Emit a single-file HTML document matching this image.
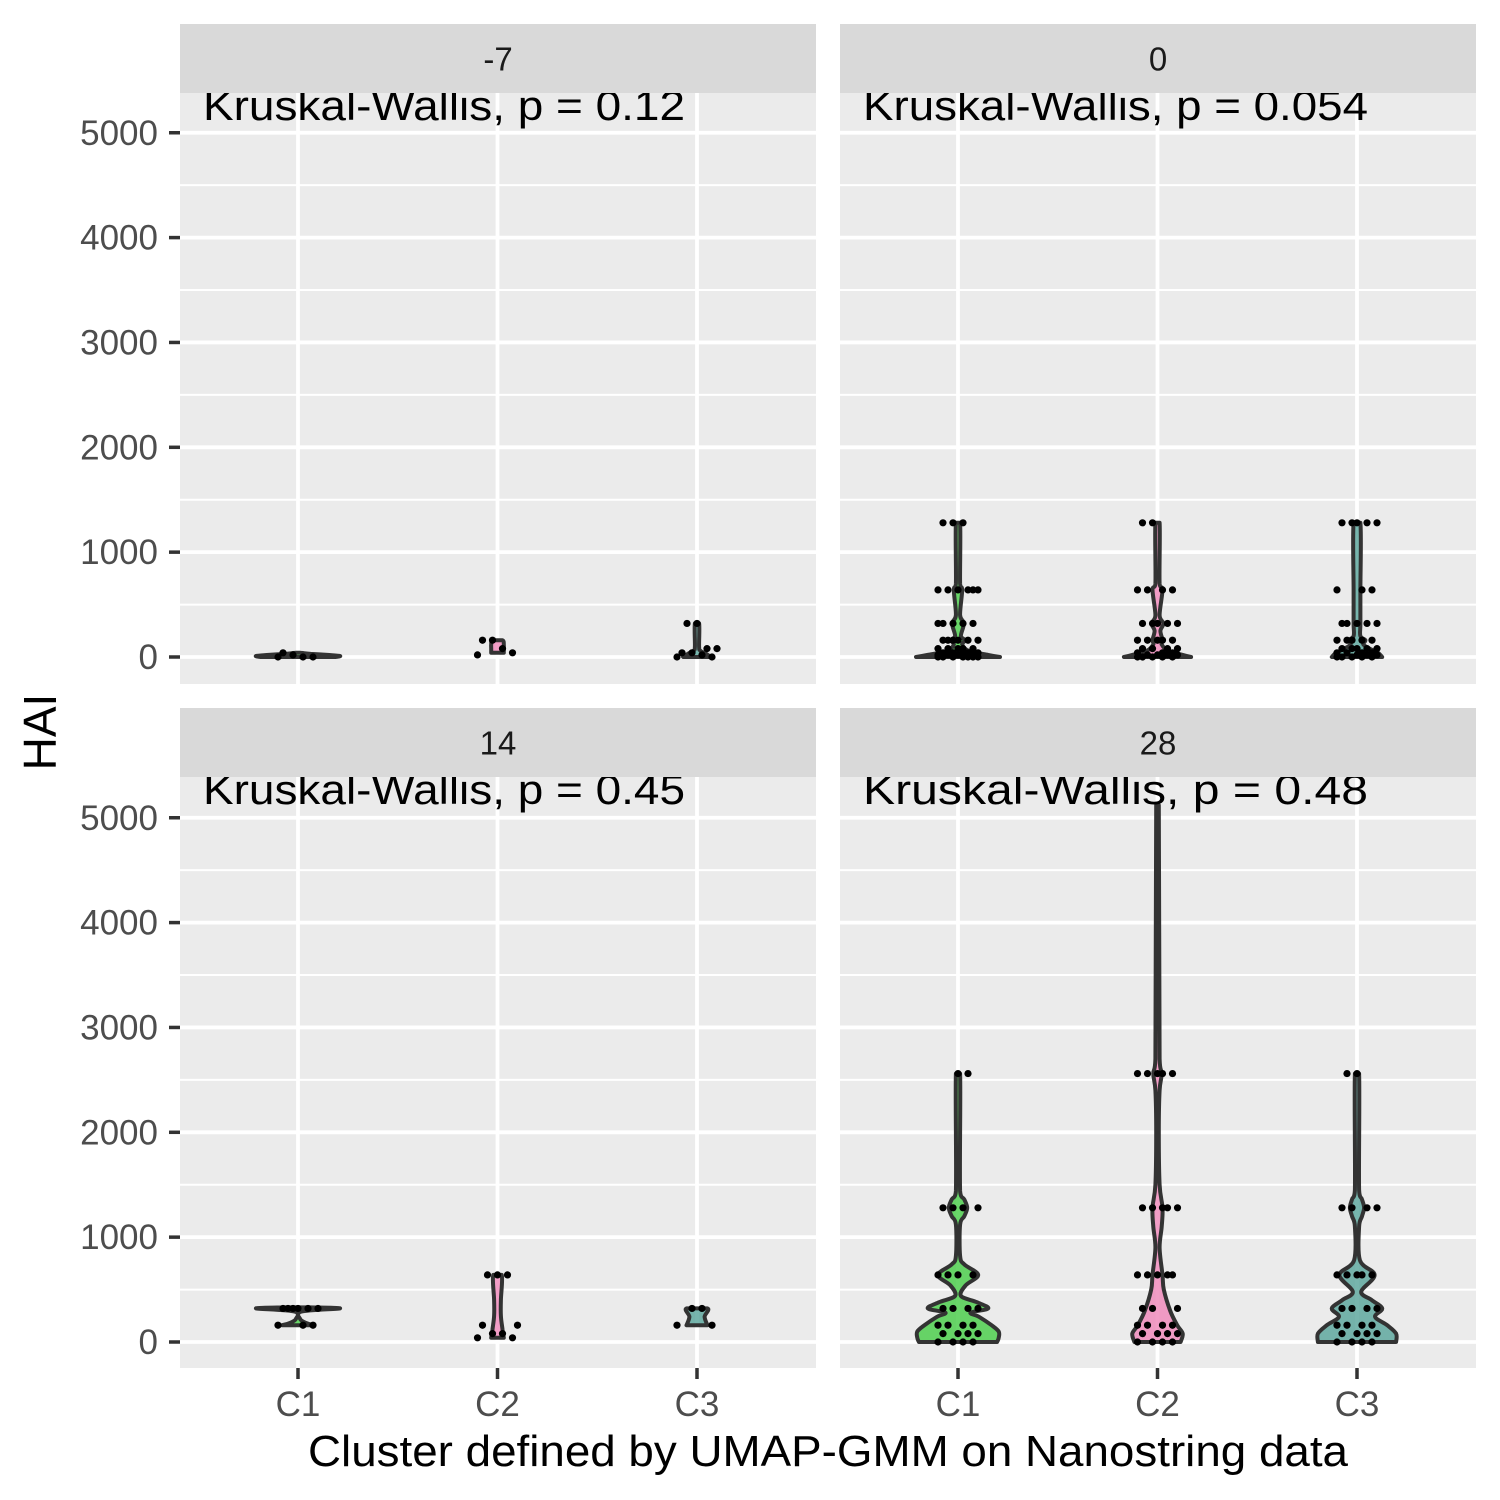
<!DOCTYPE html>
<html><head><meta charset="utf-8"><style>
html,body{margin:0;padding:0;background:#fff;}
svg{display:block;font-family:"Liberation Sans",Arial,sans-serif;}
</style></head><body>
<svg id="chart" width="1500" height="1500" viewBox="0 0 1500 1500"></svg>
<script>
const panelTitles = ["-7","0","14","28"];
const pLabels = ["Kruskal-Wallis, p = 0.12","Kruskal-Wallis, p = 0.054","Kruskal-Wallis, p = 0.45","Kruskal-Wallis, p = 0.48"];
const categories = ["C1","C2","C3"];
const yTicks = [0,1000,2000,3000,4000,5000];
const yMinor = [500,1500,2500,3500,4500];
// violin profiles: [value, relative half-width (0..1)]
const violinP0 = [
  [[0,0.9],[10,1.0],[20,0.7],[30,0.3],[40,0.05]],
  [[40,0.15],[80,0.15],[120,0.15],[160,0.12]],
  [[0,0.33],[30,0.22],[60,0.08],[100,0.05],[320,0.05]]
];
const violinP1 = [
  [[0,1.0],[20,0.72],[60,0.25],[120,0.1],[160,0.17],[200,0.07],[320,0.14],[400,0.05],[640,0.1],[700,0.05],[1280,0.05]],
  [[0,0.8],[20,0.6],[60,0.25],[120,0.1],[160,0.12],[250,0.07],[320,0.14],[400,0.05],[640,0.12],[700,0.05],[1280,0.05]],
  [[0,0.6],[40,0.5],[80,0.3],[120,0.15],[160,0.2],[200,0.08],[320,0.08],[640,0.08],[1280,0.08]]
];
const violinP2 = [
  [[160,0.38],[180,0.2],[220,0.05],[290,0.08],[320,1.0],[330,0.3]],
  [[40,0.15],[120,0.12],[250,0.08],[400,0.08],[640,0.1]],
  [[160,0.25],[240,0.18],[320,0.25]]
];
const violinP3 = [
  [[0,0.93],[40,0.97],[100,0.97],[160,0.8],[240,0.5],[280,0.3],[320,0.72],[380,0.45],[440,0.07],[540,0.18],[640,0.48],[740,0.15],[820,0.05],[1120,0.05],[1200,0.15],[1280,0.22],[1360,0.15],[1440,0.05],[2560,0.05]],
  [[0,0.55],[80,0.6],[160,0.47],[300,0.3],[500,0.15],[640,0.12],[900,0.05],[1100,0.1],[1280,0.12],[1500,0.05],[2000,0.03],[2400,0.05],[2560,0.1],[2700,0.05],[5120,0.03]],
  [[0,0.93],[80,0.93],[160,0.72],[240,0.43],[320,0.6],[400,0.35],[480,0.1],[640,0.42],[780,0.07],[1100,0.05],[1200,0.12],[1280,0.17],[1360,0.12],[1450,0.05],[2560,0.05]]
];
const violins = [violinP0, violinP1, violinP2, violinP3];
// observed HAI values per group (for jittered points)
const pointsP0 = [[0,0,0,20,40],[20,40,80,160,160],[0,0,20,40,40,80,80,320,320]];
const pointsP1 = [[0,0,0,0,0,0,0,20,20,20,20,40,40,40,40,40,80,80,80,80,80,160,160,160,160,160,160,320,320,320,320,320,640,640,640,640,640,640,1280,1280,1280],
                  [0,0,0,0,0,20,20,20,20,40,40,40,80,80,80,80,160,160,160,160,160,320,320,320,320,320,640,640,640,640,1280,1280],
                  [0,0,0,0,0,20,20,20,40,40,40,40,80,80,80,80,80,160,160,160,160,160,320,320,320,320,320,640,640,640,1280,1280,1280,1280,1280]];
const pointsP2 = [[160,160,160,320,320,320,320,320,320],[40,40,80,80,160,160,640,640,640],[160,160,320,320]];
const pointsP3 = [[0,0,0,0,80,80,80,80,160,160,160,160,320,320,320,320,640,640,640,640,1280,1280,1280,1280,2560,2560],
                  [0,0,0,0,80,80,80,80,160,160,160,160,320,320,320,640,640,640,640,640,1280,1280,1280,1280,1280,2560,2560,2560,2560,2560],
                  [0,0,0,0,80,80,80,80,160,160,160,160,320,320,320,320,640,640,640,640,640,1280,1280,1280,1280,2560,2560]];
const points = [pointsP0, pointsP1, pointsP2, pointsP3];

const fills = ["#4fcf4f","#f08cbc","#5fa89f"];
const NS = "http://www.w3.org/2000/svg";
const svg = document.getElementById("chart");
function mk(tag, attrs, parent){const e=document.createElementNS(NS,tag);for(const k in attrs)e.setAttribute(k,attrs[k]);(parent||svg).appendChild(e);return e;}
function clamp(v,a,b){const lo=Math.min(a,b),hi=Math.max(a,b);return Math.max(lo,Math.min(hi,v));}
function smoothPath(pts){
  let d = "M"+pts[0][0].toFixed(1)+","+pts[0][1].toFixed(1);
  for(let i=0;i<pts.length-1;i++){
    const p0=pts[Math.max(0,i-1)],p1=pts[i],p2=pts[i+1],p3=pts[Math.min(pts.length-1,i+2)];
    const c1=[p1[0]+(p2[0]-p0[0])/6,clamp(p1[1]+(p2[1]-p0[1])/6,p1[1],p2[1])];
    const c2=[p2[0]-(p3[0]-p1[0])/6,clamp(p2[1]-(p3[1]-p1[1])/6,p1[1],p2[1])];
    d+=" C"+c1.map(v=>v.toFixed(1)).join(",")+" "+c2.map(v=>v.toFixed(1)).join(",")+" "+p2[0].toFixed(1)+","+p2[1].toFixed(1);
  }
  return d+"Z";
}

const panels = [
  {x0:180,x1:816,sy0:24,sy1:93,py1:684,zero:657},
  {x0:840,x1:1476,sy0:24,sy1:93,py1:684,zero:657},
  {x0:180,x1:816,sy0:708,sy1:777,py1:1368,zero:1342},
  {x0:840,x1:1476,sy0:708,sy1:777,py1:1368,zero:1342}
];
const pxPer = 0.10485;
const maxHalf = 42;

panels.forEach((p,pi)=>{
  const g = mk("g",{});
  
  
  const yS = v => p.zero - v*pxPer;
  const xS = i => p.x0 + 118 + i*199.5;
  const bg = mk("rect",{x:p.x0,y:p.sy1,width:p.x1-p.x0,height:p.py1-p.sy1,fill:"#ebebeb"},g);
  
  
  yMinor.forEach(v=>{const y=yS(v); if(y>p.sy1) mk("line",{x1:p.x0,x2:p.x1,y1:y,y2:y,stroke:"#fff","stroke-width":2},g);});
  yTicks.forEach(v=>{const y=yS(v); mk("line",{x1:p.x0,x2:p.x1,y1:y,y2:y,stroke:"#fff","stroke-width":3.8},g);});
  categories.forEach((c,i)=>{mk("line",{x1:xS(i),x2:xS(i),y1:p.sy1,y2:p.py1,stroke:"#fff","stroke-width":3.8},g);});
  violins[pi].forEach((prof,i)=>{
    const cx = xS(i);
    const right = prof.map(([v,w])=>[cx+w*maxHalf, yS(v)]);
    const left = prof.slice().reverse().map(([v,w])=>[cx-w*maxHalf, yS(v)]);
    const vEl = mk("path",{d:smoothPath(right.concat(left)),fill:fills[i],"fill-opacity":0.85,stroke:"#333","stroke-width":4,"stroke-linejoin":"round"},g);
    
    
  });
  points[pi].forEach((arr,i)=>{
    const cx = xS(i);
    arr.forEach((v,k)=>{
      const off = ((k*7)%9 - 4)*5;
      const d = mk("circle",{cx:cx+off,cy:yS(v),r:3.6,fill:"#000"},g);
      
      
    });
  });
  const t = mk("text",{x:p.x0+23,y:p.sy1+27,"font-size":42,fill:"#000",textLength:(pi%2? 505:482),lengthAdjust:"spacingAndGlyphs"},g);
  t.textContent = pLabels[pi];
  
  
  const s = mk("rect",{x:p.x0,y:p.sy0,width:p.x1-p.x0,height:p.sy1-p.sy0,fill:"#d9d9d9"},g);
  
  
  const st = mk("text",{x:(p.x0+p.x1)/2,y:(p.sy0+p.sy1)/2+12,"font-size":33,fill:"#1a1a1a","text-anchor":"middle"},g);
  st.textContent = panelTitles[pi];
  
  
  if(pi%2===0){
    yTicks.forEach(v=>{
      const y=yS(v);
      mk("line",{x1:169,x2:180,y1:y,y2:y,stroke:"#333","stroke-width":3.5},g);
      const tl = mk("text",{x:158,y:y+12,"font-size":35,fill:"#4d4d4d","text-anchor":"end"},g);
      tl.textContent = v;
      
      
    });
  }
  if(pi>=2){
    categories.forEach((c,i)=>{
      mk("line",{x1:xS(i),x2:xS(i),y1:1368,y2:1379,stroke:"#333","stroke-width":3.5},g);
      const xl = mk("text",{x:xS(i),y:1416,"font-size":35,fill:"#4d4d4d","text-anchor":"middle"},g);
      xl.textContent = c;
      
      
    });
  }
});
const xt = mk("text",{x:828,y:1466,"font-size":44,fill:"#000","text-anchor":"middle",textLength:1040,lengthAdjust:"spacingAndGlyphs"});
xt.textContent = "Cluster defined by UMAP-GMM on Nanostring data";


const yt = mk("text",{x:0,y:0,"font-size":46,fill:"#000","text-anchor":"middle",transform:"translate(56,732) rotate(-90)"});
yt.textContent = "HAI";


</script>
</body></html>
